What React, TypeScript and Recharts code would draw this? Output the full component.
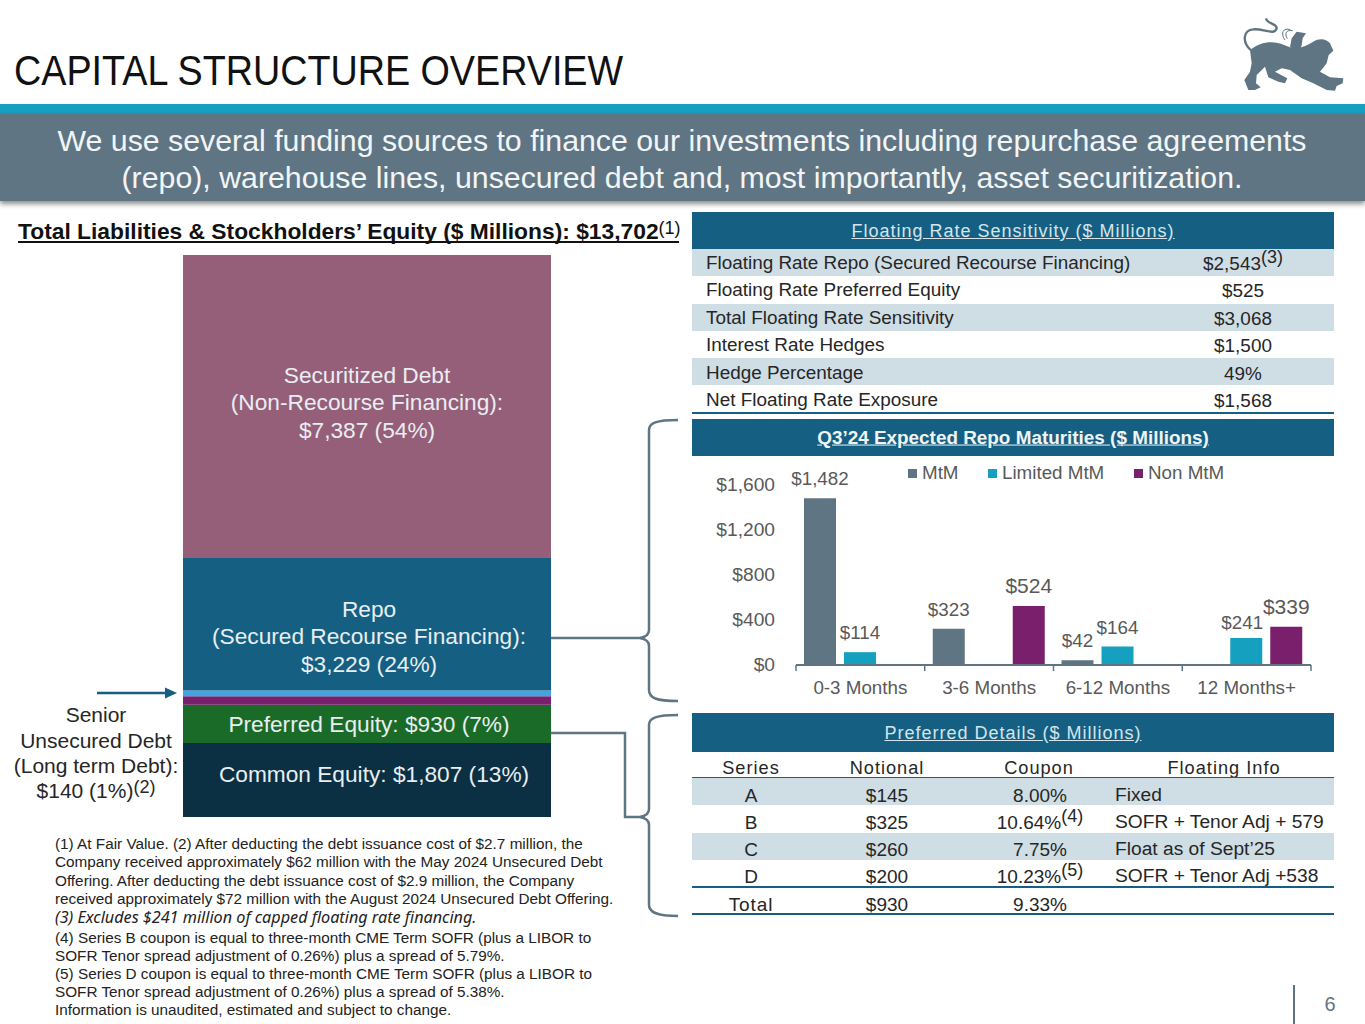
import React from 'react';
import { BarChart, Bar, XAxis, YAxis, Legend, LabelList } from 'recharts';

// ---- Data ----
const structureRow = [{ name: 'Total', common: 1807, preferred: 930, other: 209, senior: 140, repo: 3229, securitized: 7387 }];
const structureTotal = 13702;
const securitizedLines = ['Securitized Debt', '(Non-Recourse Financing):', '$7,387 (54%)'];
const repoLines = ['Repo', '(Secured Recourse Financing):', '$3,229 (24%)'];
const preferredLines = ['Preferred Equity: $930 (7%)'];
const commonLines = ['Common Equity: $1,807 (13%)'];

const maturityCategories = ['0-3 Months', '3-6 Months', '6-12 Months', '12 Months+'];
const mtmValues = [1482, 323, 42, null];
const limitedValues = [114, null, 164, 241];
const nonMtmValues = [null, 524, null, 339];
const maturityTicks = [0, 400, 800, 1200, 1600];
const maturityData = maturityCategories.map((name, i) => ({ name, mtm: mtmValues[i], limited: limitedValues[i], non: nonMtmValues[i] }));

const floatingRows = [
  ['Floating Rate Repo (Secured Recourse Financing)', '$2,543', '(3)'],
  ['Floating Rate Preferred Equity', '$525', ''],
  ['Total Floating Rate Sensitivity', '$3,068', ''],
  ['Interest Rate Hedges', '$1,500', ''],
  ['Hedge Percentage', '49%', ''],
  ['Net Floating Rate Exposure', '$1,568', ''],
];
const preferredHead = ['Series', 'Notional', 'Coupon', 'Floating Info'];
const preferredRows = [
  ['A', '$145', '8.00%', '', 'Fixed'],
  ['B', '$325', '10.64%', '(4)', 'SOFR + Tenor Adj + 579'],
  ['C', '$260', '7.75%', '', 'Float as of Sept’25'],
  ['D', '$200', '10.23%', '(5)', 'SOFR + Tenor Adj +538'],
  ['Total', '$930', '9.33%', '', ''],
];
const footnotes = [
  '(1) At Fair Value. (2) After deducting the debt issuance cost of $2.7 million, the',
  'Company received approximately $62 million with the May 2024 Unsecured Debt',
  'Offering. After deducting the debt issuance cost of $2.9 million, the Company',
  'received approximately $72 million with the August 2024 Unsecured Debt Offering.',
  '(3) Excludes $241 million of capped floating rate financing.',
  '(4) Series B coupon is equal to three-month CME Term SOFR (plus a LIBOR to',
  'SOFR Tenor spread adjustment of 0.26%) plus a spread of 5.79%.',
  '(5) Series D coupon is equal to three-month CME Term SOFR (plus a LIBOR to',
  'SOFR Tenor spread adjustment of 0.26%) plus a spread of 5.38%.',
  'Information is unaudited, estimated and subject to change.',
];
const footnoteTops = [844, 862, 881, 899, 917, 938, 956, 974, 992, 1010];

// ---- Style ----
const FONT = '"Liberation Sans", Arial, sans-serif';
const SLATE = '#5F7583';
const NAVY = '#156082';
const TEAL = '#14A0BE';
const PURPLE = '#7A1F6C';
const SHADE = '#CFDDE5';
const TEXT = '#262626';
const GREY = '#595959';

const T = ({ x, y, children, size = 18, color = TEXT, align = 'left', style }: any) => {
  const tx = align === 'center' ? 'translate(-50%,-50%)' : align === 'right' ? 'translate(-100%,-50%)' : 'translate(0,-50%)';
  return (
    <div style={{ position: 'absolute', left: x, top: y, transform: tx, fontSize: size, color, whiteSpace: 'nowrap', lineHeight: 1, ...style }}>
      {children}
    </div>
  );
};
const Sup = ({ children, size = 18, lift = 7 }: any) => (
  <span style={{ fontSize: size, position: 'relative', top: -lift, fontWeight: 400 }}>{children}</span>
);
const Rect = ({ x, y, w, h, color, style }: any) => (
  <div style={{ position: 'absolute', left: x, top: y, width: w, height: h, background: color, ...style }} />
);

const segmentLabel = (lines: string[], dx: number, dy: number, size = 22.7) => (props: any) => {
  const vb = props.viewBox || props;
  const cx = vb.x + vb.width / 2 + dx;
  const cy = vb.y + vb.height / 2 + dy;
  const lead = 27.5;
  return (
    <g>
      {lines.map((l, i) => (
        <text key={l} x={cx} y={cy + (i - (lines.length - 1) / 2) * lead} textAnchor="middle" dominantBaseline="central" fontSize={size} fontFamily={FONT} fill="#E9EEF1">
          {l}
        </text>
      ))}
    </g>
  );
};

const columnLabel = (size: number) => (props: any) => {
  const { value } = props;
  if (value === null || value === undefined) return null;
  const vb = props.viewBox || props;
  const big = value === 524 || value === 339;
  const near = value === 241;
  return (
    <text
      x={vb.x + vb.width / 2 + (near ? -4 : 0)}
      y={vb.y - 19.5 + (near ? 4 : 0) - (big ? 1 : 0)}
      textAnchor="middle"
      dominantBaseline="central"
      fontSize={big ? 21 : size}
      fontFamily={FONT}
      fill={GREY}
    >
      {'$' + value.toLocaleString('en-US')}
    </text>
  );
};

const plotLeft = 104;
const plotWidth = 515;
const bandWidth = plotWidth / maturityCategories.length;

const CategoryTick = (props: any) => {
  const { x, y, payload, index } = props;
  const left = x - bandWidth / 2;
  return (
    <g>
      <line x1={left} x2={left} y1={y - 2} y2={y + 4} stroke={SLATE} strokeWidth={1.5} />
      {index === maturityCategories.length - 1 && <line x1={left + bandWidth} x2={left + bandWidth} y1={y - 2} y2={y + 4} stroke={SLATE} strokeWidth={1.5} />}
      <text x={x} y={y + 20.5} textAnchor="middle" dominantBaseline="central" fontSize={18.8} fontFamily={FONT} fill={GREY}>
        {payload.value}
      </text>
    </g>
  );
};

const legendOffsets: Record<string, number> = { MtM: 0, 'Limited MtM': 80, 'Non MtM': 226 };
const LegendRow = ({ payload }: any) => (
  <div style={{ position: 'relative', height: 24, fontFamily: FONT, fontSize: 18.8, color: GREY }}>
    {(payload || []).map((p: any) => (
      <div key={p.value} style={{ position: 'absolute', left: legendOffsets[p.value], top: 0, display: 'flex', alignItems: 'center', height: 24, whiteSpace: 'nowrap' }}>
        <span style={{ width: 9, height: 9, background: p.color, marginRight: 5, display: 'inline-block' }} />
        {p.value}
      </div>
    ))}
  </div>
);

const Logo = () => (
  <svg width={215} height={125} viewBox="0 0 645 375" style={{ position: 'absolute', left: 1150, top: 0 }}>
    <path
      fill={SLATE}
      d="M300 150 C330 125 370 120 402 135 L420 142 C450 150 470 135 490 125 C510 112 532 118 540 130 L550 152 L536 165 L530 190 L510 215 L540 232 L580 235 L578 250 L560 258 L555 272 L530 270 L490 250 L455 235 L420 210 L395 205 L375 215 L412 235 L405 250 L385 245 L355 232 L345 200 L320 225 L318 250 L332 262 L315 270 L295 270 L283 240 L300 215 L305 190 Z"
    />
    <path fill={SLATE} d="M420 142 L425 115 L440 95 L468 100 L458 115 L455 135 L450 152 Z" />
    <path fill="none" stroke={SLATE} strokeWidth={7} d="M302 150 C275 125 280 90 310 88 C340 85 375 108 380 85 C382 70 350 72 348 55" />
    <path fill="none" stroke={SLATE} strokeWidth={3} d="M422 90 C400 80 390 100 405 120 M428 92 C410 88 402 100 412 116" />
  </svg>
);

const Braces = () => (
  <svg width={1365} height={1024} style={{ position: 'absolute', left: 0, top: 0, pointerEvents: 'none' }}>
    <g fill="none" stroke={SLATE} strokeWidth={2.5}>
      <path d="M551 638 L640 638 C646 637 649 634 649 630 L649 430 C649 423 656 420 678 420" />
      <path d="M640 638 C646 639 649 642 649 646 L649 690 C649 698 656 701 678 701" />
      <path d="M551 733 L625 733 L625 817 L640 817 C646 816 649 813 649 809 L649 725 C649 718 656 715 678 715" />
      <path d="M640 817 C646 818 649 821 649 825 L649 905 C649 912 656 916 678 916" />
    </g>
    <line x1={97} x2={166} y1={693} y2={693} stroke={NAVY} strokeWidth={2.5} />
    <polygon points="165,687.5 177,693 165,698.5" fill={NAVY} />
    <line x1={1294} x2={1294} y1={985} y2={1024} stroke={SLATE} strokeWidth={2} />
  </svg>
);

export default function App() {
  return (
    <div style={{ position: 'absolute', left: 0, top: 0, width: 1365, height: 1024, overflow: 'hidden', background: '#fff', fontFamily: FONT }}>
      {/* Title and banner */}
      <T x={14} y={71} size={42} color="#111" style={{ transformOrigin: 'left center', transform: 'translateY(-50%) scaleX(0.898)' }}>
        CAPITAL STRUCTURE OVERVIEW
      </T>
      <Logo />
      <Rect x={0} y={104} w={1365} h={10} color={TEAL} />
      <Rect x={0} y={114} w={1365} h={87} color={SLATE} style={{ boxShadow: '0 3px 5px rgba(0,0,0,0.45)' }} />
      <T x={682} y={141} size={30.3} color="#F2F5F7" align="center">We use several funding sources to finance our investments including repurchase agreements</T>
      <T x={682} y={178} size={30.3} color="#F2F5F7" align="center">(repo), warehouse lines, unsecured debt and, most importantly, asset securitization.</T>

      {/* Left column */}
      <T x={18} y={231} size={22.8} color="#111" style={{ fontWeight: 700 }}>
        Total Liabilities &amp; Stockholders’ Equity ($ Millions): $13,702<Sup size={18} lift={5}>(1)</Sup>
      </T>
      <Rect x={18} y={241} w={661} h={2} color="#111" />

      <div style={{ position: 'absolute', left: 183, top: 255 }}>
        <BarChart width={368} height={562} data={structureRow} margin={{ top: 0, right: 0, bottom: 0, left: 0 }} barCategoryGap={0}>
          <XAxis dataKey="name" hide />
          <YAxis hide domain={[0, structureTotal]} />
          <Bar dataKey="common" stackId="s" fill="#0B3044" isAnimationActive={false}>
            <LabelList dataKey="common" content={segmentLabel(commonLines, 7, -6)} />
          </Bar>
          <Bar dataKey="preferred" stackId="s" fill="#1B6B28" isAnimationActive={false}>
            <LabelList dataKey="preferred" content={segmentLabel(preferredLines, 2, 0)} />
          </Bar>
          <Bar dataKey="other" stackId="s" fill={PURPLE} isAnimationActive={false} />
          <Bar dataKey="senior" stackId="s" fill="#41A5E1" isAnimationActive={false} />
          <Bar dataKey="repo" stackId="s" fill={NAVY} isAnimationActive={false}>
            <LabelList dataKey="repo" content={segmentLabel(repoLines, 2, 12)} />
          </Bar>
          <Bar dataKey="securitized" stackId="s" fill="#955F7A" isAnimationActive={false}>
            <LabelList dataKey="securitized" content={segmentLabel(securitizedLines, 0, -4)} />
          </Bar>
        </BarChart>
      </div>

      <T x={96} y={714} size={21} align="center">Senior</T>
      <T x={96} y={740} size={21} align="center">Unsecured Debt</T>
      <T x={96} y={765} size={21} align="center">(Long term Debt):</T>
      <T x={96} y={790} size={21} align="center">$140 (1%)<Sup size={18} lift={5}>(2)</Sup></T>

      {footnotes.map((line, i) => (
        <T key={line} x={55} y={footnoteTops[i]} size={15.3} color="#222" style={i === 4 ? { fontStyle: 'italic', fontFamily: '"Noto Sans", sans-serif', fontSize: 16.2 } : undefined}>
          {line}
        </T>
      ))}

      {/* Floating rate table */}
      <Rect x={692} y={212} w={642} h={37} color={NAVY} />
      <T x={1013} y={231} size={18} color="#D6E4EB" align="center" style={{ textDecoration: 'underline', letterSpacing: 1 }}>Floating Rate Sensitivity ($ Millions)</T>
      {floatingRows.map((r, i) => {
        const top = 249 + i * 27.3;
        return (
          <React.Fragment key={r[0]}>
            {i % 2 === 0 && <Rect x={692} y={top} w={642} h={27.3} color={SHADE} />}
            <T x={706} y={top + 14 + i * 0.15} size={18.9}>{r[0]}</T>
            <T x={1243} y={top + 15 + i * 0.15} size={18.9} align="center">{r[1]}{r[2] && <Sup size={18}>{r[2]}</Sup>}</T>
          </React.Fragment>
        );
      })}
      <Rect x={692} y={412} w={642} h={2} color={NAVY} />

      {/* Repo maturities */}
      <Rect x={692} y={419} w={642} h={37} color={NAVY} />
      <T x={1013} y={438} size={18.9} color="#F0F4F6" align="center" style={{ textDecoration: 'underline', fontWeight: 700 }}>Q3’24 Expected Repo Maturities ($ Millions)</T>
      <div style={{ position: 'absolute', left: 692, top: 460 }}>
        <BarChart width={642} height={245} data={maturityData} margin={{ top: 25, right: 23, bottom: 0, left: 0 }} barGap={8} barSize={32}>
          <XAxis dataKey="name" height={40} axisLine={{ stroke: SLATE, strokeWidth: 2 }} tickLine={false} tickSize={0} tick={<CategoryTick />} interval={0} />
          <YAxis width={plotLeft} domain={[0, 1600]} ticks={maturityTicks} axisLine={false} tickLine={false} tickSize={0} tickMargin={21} tick={{ fontSize: 19.2, fill: GREY, fontFamily: FONT, dy: -1 }} tickFormatter={(v: number) => '$' + v.toLocaleString('en-US')} />
          <Legend
            verticalAlign="middle"
            align="center"
            layout="horizontal"
            itemSorter={null}
            content={<LegendRow />}
            wrapperStyle={{ top: 1, left: 216, width: 340, bottom: 'auto', right: 'auto' }}
          />
          <Bar dataKey="mtm" name="MtM" fill={SLATE} isAnimationActive={false}>
            <LabelList dataKey="mtm" content={columnLabel(18.8)} />
          </Bar>
          <Bar dataKey="limited" name="Limited MtM" fill={TEAL} isAnimationActive={false}>
            <LabelList dataKey="limited" content={columnLabel(18.8)} />
          </Bar>
          <Bar dataKey="non" name="Non MtM" fill={PURPLE} isAnimationActive={false}>
            <LabelList dataKey="non" content={columnLabel(18.8)} />
          </Bar>
        </BarChart>
      </div>

      {/* Preferred details */}
      <Rect x={692} y={713} w={642} h={39} color={NAVY} />
      <T x={1013} y={733} size={18} color="#D6E4EB" align="center" style={{ textDecoration: 'underline', letterSpacing: 1 }}>Preferred Details ($ Millions)</T>
      {preferredHead.map((h, i) => (
        <T key={h} x={[751, 887, 1039, 1224][i]} y={767.5} size={18.2} align="center" style={{ letterSpacing: 1 }}>{h}</T>
      ))}
      <Rect x={692} y={777} w={642} h={2} color={NAVY} />
      {preferredRows.map((r, i) => {
        const top = 778 + i * 27.3;
        return (
          <React.Fragment key={r[0]}>
            {i % 2 === 0 && i < 4 && <Rect x={692} y={top} w={642} h={27.3} color={SHADE} />}
            <T x={751} y={top + 16.5} size={19} align="center" style={r[0] === 'Total' ? { letterSpacing: 0.9 } : undefined}>{r[0]}</T>
            <T x={887} y={top + 16.5} size={19} align="center">{r[1]}</T>
            <T x={1040} y={top + 16.5} size={19} align="center">{r[2]}{r[3] && <Sup size={18}>{r[3]}</Sup>}</T>
            <T x={1115} y={top + 16.5} size={19.2}>{r[4]}</T>
          </React.Fragment>
        );
      })}
      <Rect x={692} y={886} w={642} h={2} color={NAVY} />
      <Rect x={692} y={913} w={642} h={2} color={NAVY} />

      <Braces />
      <T x={1330} y={1004} size={20} color={SLATE} align="center">6</T>
    </div>
  );
}
